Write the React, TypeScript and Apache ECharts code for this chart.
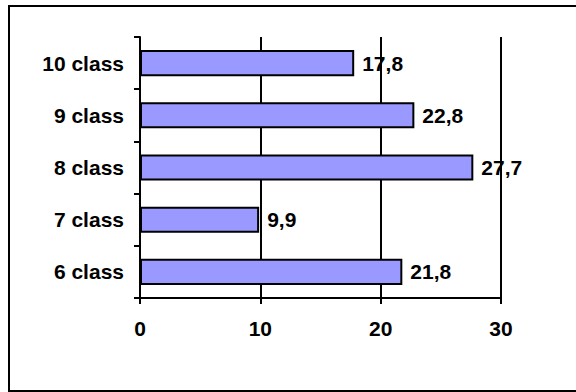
import React, { useEffect, useRef } from "react";
import * as echarts from "echarts";

const categories = ["6 class", "7 class", "8 class", "9 class", "10 class"];
const values = [21.8, 9.9, 27.7, 22.8, 17.8];
const xTicks = { min: 0, max: 30, interval: 10 };

const FONT = "'Liberation Sans', Arial, sans-serif";

export default function App() {
  const ref = useRef<HTMLDivElement>(null);
  useEffect(() => {
    if (!ref.current) return;
    const chart = echarts.init(ref.current, undefined, { renderer: "svg" });
    const labelStyle = {
      color: "#000",
      fontFamily: FONT,
      fontWeight: "bold" as const,
      fontSize: 21,
    };
    chart.setOption({
      animation: false,
      backgroundColor: "#fff",
      graphic: [
        {
          type: "rect",
          shape: { x: 9, y: 6, width: 580, height: 385 },
          style: { fill: "none", stroke: "#000", lineWidth: 2 },
          silent: true,
        },
      ],
      grid: { left: 140, right: 75, top: 37, bottom: 94, containLabel: false },
      xAxis: {
        type: "value",
        min: xTicks.min,
        max: xTicks.max,
        interval: xTicks.interval,
        axisLine: { show: true, lineStyle: { color: "#000", width: 2 } },
        axisTick: { show: true, length: 6, lineStyle: { color: "#000", width: 2 } },
        splitLine: { show: true, lineStyle: { color: "#000", width: 2 } },
        axisLabel: { ...labelStyle, margin: 20 },
      },
      yAxis: {
        type: "category",
        data: categories,
        axisLine: { show: true, lineStyle: { color: "#000", width: 2 } },
        axisTick: { show: true, length: 6, lineStyle: { color: "#000", width: 2 } },
        axisLabel: { ...labelStyle, margin: 16 },
      },
      series: [
        {
          type: "bar",
          data: values,
          barWidth: "50%",
          itemStyle: { color: "#9999FF", borderColor: "#000", borderWidth: 2 },
          label: {
            show: true,
            position: "right",
            distance: 8,
            ...labelStyle,
            formatter: (p: any) => String(p.value).replace(".", ","),
          },
        },
      ],
    });
    return () => chart.dispose();
  }, []);
  return (
    <div
      ref={ref}
      style={{ position: "fixed", left: 0, top: 0, width: 576, height: 392 }}
    />
  );
}
